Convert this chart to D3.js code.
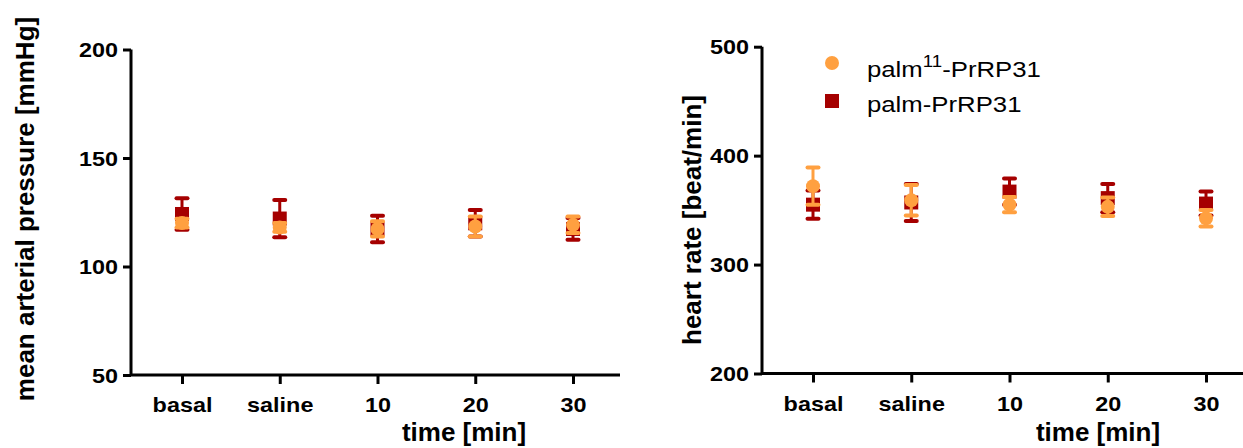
<!DOCTYPE html>
<html>
<head>
<meta charset="utf-8">
<script src="https://cdn.jsdelivr.net/npm/d3@7"></script>
<style>
  body { margin: 0; background: #fff; }
  svg { display: block; font-family: "Liberation Sans", Arial, sans-serif; }
</style>
</head>
<body>
<svg id="chart" width="1243" height="448"></svg>
<script>
// categories on the x axis
const categories = ["basal", "saline", "10", "20", "30"];

// mean arterial pressure [mmHg], mean and SEM
const mapPalm11 = [120, 118, 117.3, 118.4, 119.2];
const mapPalm11Err = [2, 2, 3.5, 4.6, 3.8];
const mapPalm = [124.2, 122.1, 117.3, 119.9, 117.3];
const mapPalmErr = [7.3, 8.6, 6.1, 6.1, 5];

// heart rate [beat/min], mean and SEM
const hrPalm11 = [372, 359, 355, 353, 342.5];
const hrPalm11Err = [17, 14, 7, 8.5, 7.5];
const hrPalm = [355, 357, 367, 361, 356];
const hrPalmErr = [13, 17, 12, 13, 11];

const mapTicks = [50, 100, 150, 200];
const hrTicks = [200, 300, 400, 500];

const seriesNames = ["palm11-PrRP31", "palm-PrRP31"];
const orange = "#FFA040";
const red = "#A50000";
const stretch = 1.17;

const svg = d3.select("#chart");

function rows(means, errs) {
    return categories.map((c, i) => ({ cat: c, mean: means[i], err: errs[i] }));
}

function panel(opt) {
    const x = d3.scalePoint().domain(categories).range(opt.xRange);
    const y = d3.scaleLinear().domain(opt.yDomain).range(opt.yRange);
    const g = svg.append("g");

    // y axis
    const ya = g.append("g")
        .attr("transform", `translate(${opt.axisX},0)`)
        .call(d3.axisLeft(y).tickValues(opt.ticks).tickSize(8).tickSizeOuter(0).tickPadding(13));
    ya.select(".domain").attr("d", `M0,${opt.yRange[0]}V${opt.yRange[1]}`);
    ya.selectAll("line, .domain").attr("stroke", "#000").attr("stroke-width", 3);
    ya.selectAll("text")
        .attr("font-size", 20).attr("font-weight", "bold").attr("fill", "#000")
        .attr("dy", "0.36em")
        .attr("transform", `scale(${stretch},1)`)
        .attr("x", -13 / stretch);

    // x axis
    const xa = g.append("g")
        .attr("transform", `translate(0,${opt.yRange[0]})`)
        .call(d3.axisBottom(x).tickSize(9).tickSizeOuter(0).tickPadding(14));
    xa.select(".domain").attr("d", `M${opt.axisX},0H${opt.xEnd}`);
    xa.selectAll("line, .domain").attr("stroke", "#000").attr("stroke-width", 3);
    xa.selectAll("text")
        .attr("font-size", 20).attr("font-weight", "bold").attr("fill", "#000")
        .attr("dy", "0.71em")
        .attr("transform", `scale(${stretch},1)`);

    // axis titles
    g.append("text")
        .attr("transform", `translate(${opt.titleX},${opt.titleY}) rotate(-90)`)
        .attr("text-anchor", "middle")
        .attr("font-size", 26).attr("font-weight", "bold")
        .text(opt.yTitle);
    g.append("text")
        .attr("x", opt.xTitleX).attr("y", 441)
        .attr("text-anchor", "middle")
        .attr("font-size", 26).attr("font-weight", "bold")
        .text("time [min]");

    // series: dark red first, orange on top
    opt.series.forEach(s => {
        const d = rows(s.means, s.errs);
        const sg = g.append("g").attr("fill", s.color).attr("stroke", s.color);
        const eb = sg.selectAll("g.eb").data(d).join("g").attr("class", "eb")
            .attr("transform", v => `translate(${x(v.cat)},0)`);
        eb.append("line")
            .attr("y1", v => y(v.mean - v.err)).attr("y2", v => y(v.mean + v.err))
            .attr("stroke-width", 3);
        eb.selectAll("line.cap").data(v => [v.mean - v.err, v.mean + v.err]).join("line")
            .attr("class", "cap")
            .attr("x1", -5.5).attr("x2", 5.5)
            .attr("y1", v => y(v)).attr("y2", v => y(v))
            .attr("stroke-width", 4).attr("stroke-linecap", "round");
        if (s.shape === "circle") {
            sg.selectAll("circle").data(d).join("circle")
                .attr("cx", v => x(v.cat)).attr("cy", v => y(v.mean))
                .attr("r", 7).attr("stroke", "none");
        } else {
            sg.selectAll("rect").data(d).join("rect")
                .attr("x", v => x(v.cat) - 7).attr("y", v => y(v.mean) - 7)
                .attr("width", 14).attr("height", 14).attr("stroke", "none");
        }
    });
}

panel({
    xRange: [182, 573], axisX: 131, xEnd: 620,
    yDomain: [50, 200], yRange: [375, 49.5], ticks: mapTicks,
    yTitle: "mean arterial pressure [mmHg]", titleX: 34, titleY: 209, xTitleX: 464,
    series: [
        { means: mapPalm, errs: mapPalmErr, color: red, shape: "square" },
        { means: mapPalm11, errs: mapPalm11Err, color: orange, shape: "circle" }
    ]
});

panel({
    xRange: [813, 1206], axisX: 762, xEnd: 1250,
    yDomain: [200, 500], yRange: [373.5, 46.7], ticks: hrTicks,
    yTitle: "heart rate [beat/min]", titleX: 701, titleY: 220, xTitleX: 1098,
    series: [
        { means: hrPalm, errs: hrPalmErr, color: red, shape: "square" },
        { means: hrPalm11, errs: hrPalm11Err, color: orange, shape: "circle" }
    ]
});

// legend
const legend = svg.append("g").attr("font-size", 22);
legend.append("circle").attr("cx", 832).attr("cy", 63).attr("r", 7).attr("fill", orange);
legend.append("rect").attr("x", 825).attr("y", 94).attr("width", 14).attr("height", 14).attr("fill", red);
const t1 = legend.append("text").attr("transform", `translate(867,77) scale(${stretch},1)`);
t1.append("tspan").text("palm");
t1.append("tspan").attr("font-size", 16).attr("dy", -10).text("11");
t1.append("tspan").attr("dy", 10).text("-PrRP31");
legend.append("text").attr("transform", `translate(867,112) scale(${stretch},1)`).text(seriesNames[1]);
</script>
</body>
</html>
